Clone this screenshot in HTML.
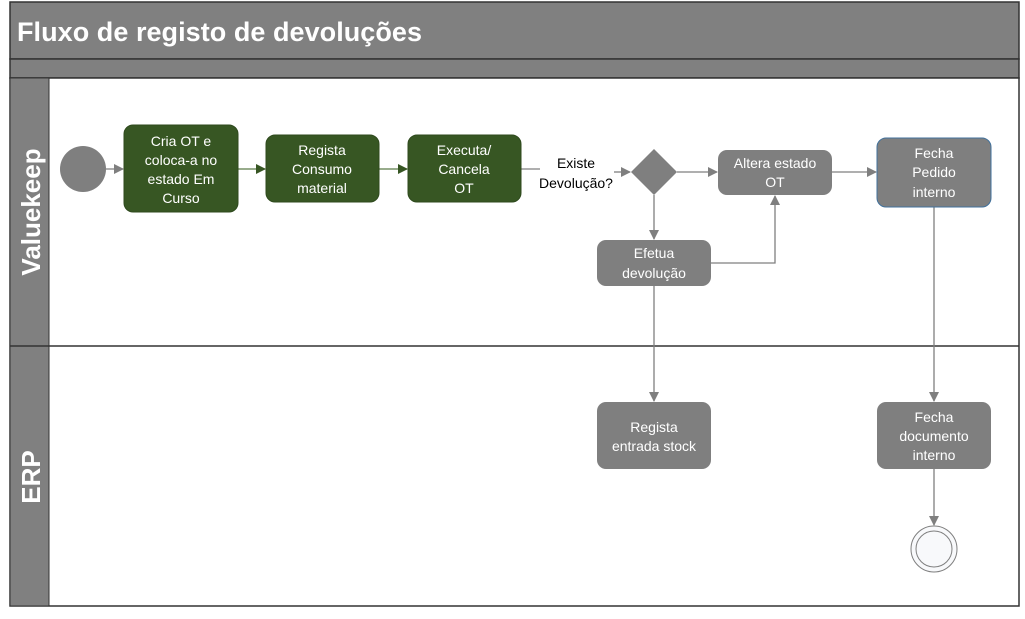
<!DOCTYPE html>
<html><head><meta charset="utf-8"><style>
html,body{margin:0;padding:0;background:#fff;}
svg text{font-family:"Liberation Sans",sans-serif;}
</style></head><body>
<svg width="1025" height="614" viewBox="0 0 1025 614" xmlns="http://www.w3.org/2000/svg">
<defs>
<marker id="a" markerWidth="10" markerHeight="10" refX="9" refY="5" orient="auto" markerUnits="userSpaceOnUse"><path d="M0,0 L10,5 L0,10 z" fill="#7f7f7f"/></marker>
<marker id="g" markerWidth="10" markerHeight="10" refX="9" refY="5" orient="auto" markerUnits="userSpaceOnUse"><path d="M0,0 L10,5 L0,10 z" fill="#375623"/></marker>
</defs>
<rect x="0" y="0" width="1025" height="614" fill="#fff"/>
<rect x="10" y="2" width="1009" height="57" fill="#808080" stroke="#333" stroke-width="1.5"/>
<text x="17" y="41" font-size="27" font-weight="bold" fill="#fff" textLength="405">Fluxo de registo de devoluções</text>
<rect x="10" y="59" width="1009" height="19" fill="#808080" stroke="#333" stroke-width="1.5"/>
<rect x="10" y="78" width="1009" height="528" fill="#fff" stroke="#333" stroke-width="1.5"/>
<rect x="10" y="78" width="39" height="268" fill="#808080" stroke="#333" stroke-width="1"/>
<rect x="10" y="346" width="39" height="260" fill="#808080" stroke="#333" stroke-width="1"/>
<line x1="10" y1="346" x2="1019" y2="346" stroke="#333" stroke-width="1.5"/>
<text transform="translate(40,212) rotate(-90)" text-anchor="middle" font-size="26" font-weight="bold" fill="#fff">Valuekeep</text>
<text transform="translate(40,477) rotate(-90)" text-anchor="middle" font-size="26" font-weight="bold" fill="#fff">ERP</text>
<g stroke="#7f7f7f" stroke-width="1.3" fill="none">
<line x1="106" y1="169" x2="123" y2="169" marker-end="url(#a)"/>
<line x1="832" y1="172" x2="876" y2="172" marker-end="url(#a)"/>
<line x1="677" y1="172" x2="717" y2="172" marker-end="url(#a)"/>
<line x1="521" y1="169" x2="540" y2="169"/>
<line x1="614" y1="172" x2="630" y2="172" marker-end="url(#a)"/>
<line x1="654" y1="195" x2="654" y2="239" marker-end="url(#a)"/>
<polyline points="711,263 775,263 775,196" marker-end="url(#a)"/>
<line x1="654" y1="286" x2="654" y2="401" marker-end="url(#a)"/>
<line x1="934" y1="207" x2="934" y2="401" marker-end="url(#a)"/>
<line x1="934" y1="469" x2="934" y2="525" marker-end="url(#a)"/>
</g>
<g stroke="#5a7a48" stroke-width="1.3">
<line x1="238" y1="169" x2="265" y2="169" marker-end="url(#g)"/>
<line x1="379" y1="169" x2="407" y2="169" marker-end="url(#g)"/>
</g>
<circle cx="83" cy="169" r="23" fill="#7f7f7f"/>
<g fill="#375623" stroke="#2f4a1e">
<rect x="124" y="125" width="114" height="87" rx="9"/>
<rect x="266" y="135" width="113" height="67" rx="9"/>
<rect x="408" y="135" width="113" height="67" rx="9"/>
</g>
<g fill="#fff" font-size="14" text-anchor="middle">
<text x="181" y="146">Cria OT e</text><text x="181" y="165">coloca-a no</text><text x="181" y="184">estado Em</text><text x="181" y="203">Curso</text>
<text x="322" y="155">Regista</text><text x="322" y="174">Consumo</text><text x="322" y="193">material</text>
<text x="464" y="155">Executa/</text><text x="464" y="174">Cancela</text><text x="464" y="193">OT</text>
</g>
<text x="576" y="168" font-size="14" text-anchor="middle" fill="#000">Existe</text>
<text x="576" y="188" font-size="14" text-anchor="middle" fill="#000">Devolução?</text>
<polygon points="654,149 677,172 654,195 631,172" fill="#7f7f7f"/>
<g fill="#7f7f7f">
<rect x="718" y="150" width="114" height="45" rx="9"/>
<rect x="877" y="138" width="114" height="69" rx="9" stroke="#41719c" stroke-width="1"/>
<rect x="597" y="240" width="114" height="46" rx="9"/>
<rect x="597" y="402" width="114" height="67" rx="9"/>
<rect x="877" y="402" width="114" height="67" rx="9"/>
</g>
<g fill="#fff" font-size="14" text-anchor="middle">
<text x="775" y="168">Altera estado</text><text x="775" y="187">OT</text>
<text x="934" y="158">Fecha</text><text x="934" y="177">Pedido</text><text x="934" y="197">interno</text>
<text x="654" y="258">Efetua</text><text x="654" y="278">devolução</text>
<text x="654" y="432">Regista</text><text x="654" y="451">entrada stock</text>
<text x="934" y="422">Fecha</text><text x="934" y="441">documento</text><text x="934" y="460">interno</text>
</g>
<circle cx="934" cy="549" r="23" fill="#f8f9fb" stroke="#7f7f7f" stroke-width="1"/>
<circle cx="934" cy="549" r="18" fill="none" stroke="#7f7f7f" stroke-width="1"/>
</svg>
</body></html>
